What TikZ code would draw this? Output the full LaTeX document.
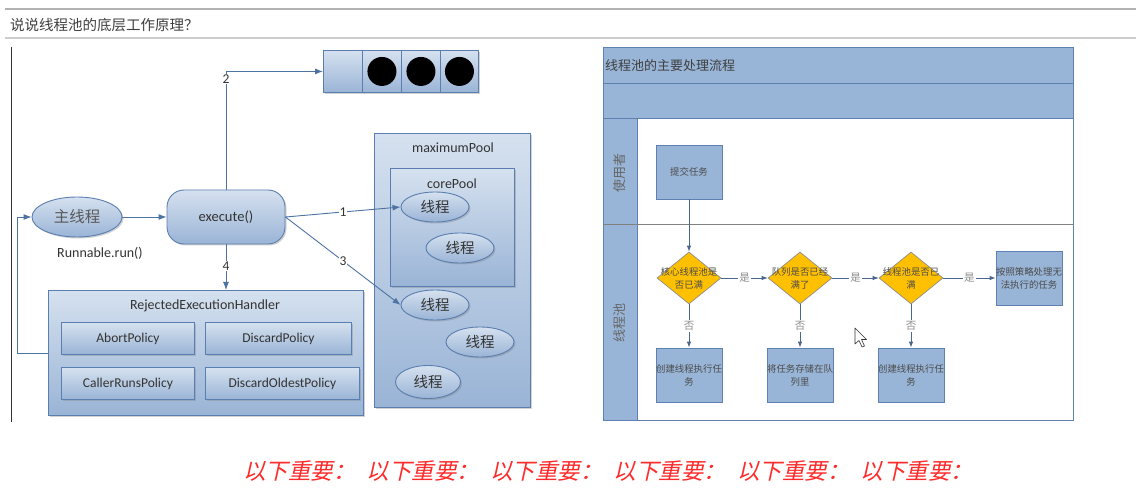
\documentclass[tikz,border=0pt]{standalone}
\usepackage{fontspec}
\setmainfont{Carlito}
\newfontfamily\cjk{Noto Sans CJK SC}
\newfontfamily\cjkit{Noto Sans CJK SC}[FakeSlant=0.22]
\usetikzlibrary{shapes.geometric,arrows.meta,shadows}
\definecolor{bdr}{HTML}{5B7EB0}
\definecolor{ltop}{HTML}{D5E1EF}
\definecolor{lbot}{HTML}{9AB4D6}
\definecolor{arr}{HTML}{2E5A93}
\definecolor{flow}{HTML}{98B4D6}
\definecolor{fbdr}{HTML}{5E80B2}
\definecolor{gold}{HTML}{FFC000}
\definecolor{txt}{HTML}{333333}
\definecolor{redtxt}{HTML}{FF2A2A}
\tikzset{
  bluebox/.style={draw=bdr, line width=0.9pt, top color=ltop, bottom color=lbot,
    drop shadow={shadow xshift=1.5pt, shadow yshift=-1.5pt, opacity=0.35}, inner sep=0pt},
  blueell/.style={bluebox, ellipse},
  thr/.style={blueell, minimum width=68pt, minimum height=30pt, font=\cjk\fontsize{14.5}{16}\selectfont, text=txt},
  pol/.style={bluebox, minimum height=32pt, font=\fontsize{13.5}{15}\selectfont, text=txt},
  conn/.style={draw=arr!85, line width=0.9pt, -{Latex[length=8pt,width=6pt]}},
  lab/.style={fill=white, inner sep=1pt, font=\fontsize{13.5}{15}\selectfont, text=txt},
  fbox/.style={draw=fbdr, line width=0.8pt, fill=flow, minimum width=66pt, minimum height=54pt, inner sep=0pt,
    align=center, font=\cjk\fontsize{9.4}{13}\selectfont, text=black!70},
  dia/.style={diamond, aspect=1.23, draw=black!45, line width=0.7pt, fill=gold, minimum width=64pt, minimum height=52pt, inner sep=0pt},
  dtext/.style={align=center, font=\cjk\fontsize{9.4}{13}\selectfont, text=black!70},
  fconn/.style={draw=fbdr!80!black, line width=0.8pt, -{Latex[length=6pt,width=4.5pt]}},
  flab/.style={fill=white, inner sep=1pt, font=\cjk\fontsize{10.5}{12}\selectfont, text=black!45},
}
\begin{document}
\begin{tikzpicture}[x=1pt,y=-1pt]
\useasboundingbox (0,0) rectangle (1136,497);
\fill[white] (0,0) rectangle (1136,497);
% page header
\draw[color=black!30, line width=2.5pt] (5,9) -- (1136,9);
\node[anchor=west, inner sep=0pt, font=\cjk\fontsize{14.5}{16}\selectfont, text=black!75] (title) at (10,25) {说说线程池的底层工作原理？};
\draw[color=black!20, line width=1.5pt] (5,38) -- (1136,38);
\draw[color=black!80, line width=0.8pt] (11,47) -- (11,422);

% ===== left diagram =====
% queue
\node[bluebox, minimum width=40pt, minimum height=42pt, anchor=north west] (q0) at (323,50) {};
\node[bluebox, minimum width=39pt, minimum height=42pt, anchor=north west] (q1) at (362,50) {};
\node[bluebox, minimum width=39pt, minimum height=42pt, anchor=north west] (q2) at (401,50) {};
\node[bluebox, minimum width=38pt, minimum height=42pt, anchor=north west] (q3) at (440,50) {};
\foreach \q in {q1,q2,q3}{\fill[black] (\q.center) circle (14.5pt);}

\node[blueell, minimum width=90pt, minimum height=40pt, font=\cjk\fontsize{15.5}{17}\selectfont, text=black!65] (main) at (77,217) {主线程};
\node[font=\fontsize{14}{16}\selectfont, text=txt] (runl) at (100,253) {Runnable.run()};
\node[bluebox, rounded corners=17pt, minimum width=118pt, minimum height=54pt, font=\fontsize{14.5}{16}\selectfont, text=txt] (exec) at (226,217) {execute()};

% handler
\node[bluebox, minimum width=315pt, minimum height=125pt, anchor=north west] (handler) at (48,290) {};
\node[font=\fontsize{14}{16}\selectfont, text=txt] (htitle) at (205,306) {RejectedExecutionHandler};
\node[pol, minimum width=133pt, anchor=north west] (abort) at (61,322) {AbortPolicy};
\node[pol, minimum width=146pt, anchor=north west] (discard) at (205,322) {DiscardPolicy};
\node[pol, minimum width=133pt, anchor=north west] (caller) at (61,367) {CallerRunsPolicy};
\node[pol, minimum width=154pt, anchor=north west] (oldest) at (205,367) {DiscardOldestPolicy};

% pools
\node[bluebox, minimum width=156pt, minimum height=274pt, anchor=north west] (maxpool) at (374,133) {};
\node[font=\fontsize{14}{16}\selectfont, text=txt] (maxl) at (453,148) {maximumPool};
\node[bluebox, minimum width=124pt, minimum height=118pt, anchor=north west] (core) at (390,168) {};
\node[font=\fontsize{14}{16}\selectfont, text=txt] (corel) at (452,184) {corePool};
\node[thr] (t1) at (435,207) {线程};
\node[thr] (t2) at (460,248) {线程};
\node[thr] (t3) at (435,305) {线程};
\node[thr] (t4) at (480,342) {线程};
\node[thr, minimum width=65pt, minimum height=33pt] (t5) at (428,382) {线程};

% connectors
\draw[conn] (main) -- (exec);
\draw[conn] (exec.north) -- (exec.north |- q0.west) -- (q0.west);
\node[lab] (l2) at (226,79) {2};
\draw[conn] (exec.east) -- node[lab, pos=0.5] (l1) {1} (t1.west);
\draw[conn] (exec.east) -- node[lab, pos=0.5] (l3) {3} (t3.west);
\draw[conn] (exec.south) -- node[lab, pos=0.47] (l4) {4} (exec.south |- handler.north);
\draw[conn] (handler.west) -- ++(-31,0) |- (main.west);

% ===== right diagram =====
\draw[draw=fbdr, line width=1pt, fill=white] (603,48) rectangle (1073,420);
\fill[flow] (603,48) rectangle (1073,119);
\fill[flow] (603,119) rectangle (637,420);
\draw[draw=fbdr, line width=1pt] (603,48) rectangle (1073,420);
\draw[draw=fbdr, line width=1pt] (603,84) -- (1073,84);
\draw[draw=fbdr, line width=1pt] (603,119) -- (1073,119);
\draw[draw=fbdr, line width=0.8pt] (637,119) -- (637,420);
\draw[draw=black!50, line width=1pt] (603,225) -- (1073,225);
\node[anchor=west, inner sep=0pt, font=\cjk\fontsize{13}{15}\selectfont, text=black!75] (ftitle) at (605,66) {线程池的主要处理流程};
\node[rotate=90, font=\cjk\fontsize{13}{15}\selectfont, text=black!60] (lane1) at (620,173) {使用者};
\node[rotate=90, font=\cjk\fontsize{13}{15}\selectfont, text=black!60] (lane2) at (620,323) {线程池};

\node[fbox] (submit) at (689,172) {提交任务};
\node[dia] (d1) at (689,278) {};
\node[dtext] (d1t) at (689,278) {核心线程池是\\否已满};
\node[dia] (d2) at (800,278) {};
\node[dtext] (d2t) at (800,278) {队列是否已经\\满了};
\node[dia] (d3) at (911,278) {};
\node[dtext] (d3t) at (911,278) {线程池是否已\\满};
\node[fbox] (reject) at (1029,278) {按照策略处理无\\法执行的任务};
\node[fbox] (b1) at (689,375) {创建线程执行任\\务};
\node[fbox] (b2) at (800,375) {将任务存储在队\\列里};
\node[fbox] (b3) at (911,375) {创建线程执行任\\务};

\draw[fconn] (submit) -- (d1);
\draw[fconn] (d1) -- node[flab] (y1) {是} (d2);
\draw[fconn] (d2) -- node[flab] (y2) {是} (d3);
\draw[fconn] (d3) -- node[flab] (y3) {是} (reject);
\draw[fconn] (d1) -- node[flab] (n1) {否} (b1);
\draw[fconn] (d2) -- node[flab] (n2) {否} (b2);
\draw[fconn] (d3) -- node[flab] (n3) {否} (b3);

% mouse cursor
\draw[fill=white, draw=black!80, line width=0.6pt, line join=round]
  (855,328) -- (855,344) -- (859,340.5) -- (862,347) -- (864.5,346) -- (861.5,339.5) -- (866.5,339.5) -- cycle;

% red text
\foreach \i in {0,...,5}{
  \node[anchor=west, inner sep=0pt, font=\cjkit\fontsize{22.5}{24}\selectfont, text=redtxt] (red\i) at (243+\i*123.5,471) {以下重要：};
}
\end{tikzpicture}
\end{document}
